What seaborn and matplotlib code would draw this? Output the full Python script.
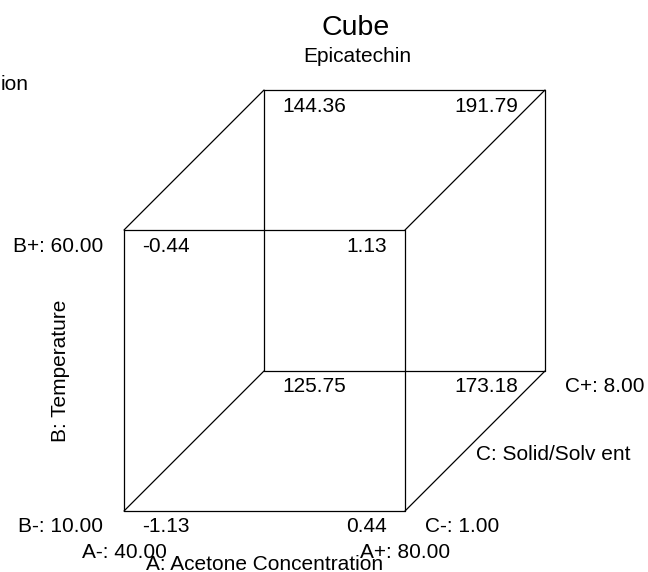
import matplotlib
matplotlib.use("Agg")
import matplotlib.pyplot as plt
import seaborn as sns
import pandas as pd
import itertools

# ---- data ----
title = "Cube"
response = "Epicatechin"
factor_names = ["A: Acetone Concentration", "B: Temperature", "C: Solid/Solv ent"]
A_levels = [40.00, 80.00]
B_levels = [10.00, 60.00]
C_levels = [1.00, 8.00]
# predicted values at corners, keyed by coded (a, b, c) with 0 = low, 1 = high
corner_a = [0, 1, 0, 1, 0, 1, 0, 1]
corner_b = [0, 0, 1, 1, 0, 0, 1, 1]
corner_c = [0, 0, 0, 0, 1, 1, 1, 1]
corner_values = [-1.13, 0.44, -0.44, 1.13, 125.75, 173.18, 144.36, 191.79]

sns.set_theme(style="white")
plt.rcParams["font.family"] = ["Liberation Sans", "DejaVu Sans"]
plt.rcParams["text.color"] = "black"

W, H = 648, 572
fig = plt.figure(figsize=(W / 100, H / 100), dpi=100)
ax = fig.add_axes([0, 0, 1, 1])

# projection of coded levels to the page
X0, Y0, SIDE, DEPTH = 124, 511, 281, 140


def proj(a, b, c):
    return X0 + SIDE * a + DEPTH * c, Y0 - SIDE * b - DEPTH * c


# cube edges: pairs of corners differing in one coordinate
rows = []
corners = list(itertools.product([0, 1], repeat=3))
eid = 0
for p, q in itertools.combinations(corners, 2):
    if sum(abs(i - j) for i, j in zip(p, q)) == 1:
        for pt in (p, q):
            x, y = proj(*pt)
            rows.append({"edge": eid, "x": x, "y": y})
        eid += 1
edges = pd.DataFrame(rows)
sns.lineplot(data=edges, x="x", y="y", units="edge", estimator=None,
             sort=False, color="black", linewidth=0.9, ax=ax, legend=False)
ax.set_xlim(0, W)
ax.set_ylim(H, 0)
ax.axis("off")

FS = 15
TC = "black"
# corner values
for a, b, c, v in zip(corner_a, corner_b, corner_c, corner_values):
    x, y = proj(a, b, c)
    if a == 0:
        ax.text(x + 18, y + 21.5, f"{v:.2f}", ha="left", va="baseline", fontsize=FS, color=TC)
    else:
        off = 18 if c == 0 else 27
        ax.text(x - off, y + 21.5, f"{v:.2f}", ha="right", va="baseline", fontsize=FS, color=TC)

# factor B labels
for b, lev, sign in zip([0, 1], B_levels, ["-", "+"]):
    x, y = proj(0, b, 0)
    ax.text(x - 21, y + 21.5, f"B{sign}: {lev:.2f}", ha="right", va="baseline",
            fontsize=FS, color=TC)
# factor A labels
for a, lev, sign in zip([0, 1], A_levels, ["-", "+"]):
    x, y = proj(a, 0, 0)
    ax.text(x, y + 46.5, f"A{sign}: {lev:.2f}", ha="center", va="baseline",
            fontsize=FS, color=TC)
# factor C labels
for c, lev, sign in zip([0, 1], C_levels, ["-", "+"]):
    x, y = proj(1, 0, c)
    ax.text(x + 20, y + 21, f"C{sign}: {lev:.2f}", ha="left", va="baseline",
            fontsize=FS, color=TC)

# axis titles
xa0, ya0 = proj(0, 0, 0)
xa1, _ = proj(1, 0, 0)
ax.text((xa0 + xa1) / 2, ya0 + 58.5, factor_names[0], ha="center", va="baseline",
        fontsize=FS, color=TC)
_, yb1 = proj(0, 1, 0)
ax.text(61, (ya0 + yb1) / 2, factor_names[1], ha="center", va="center",
        rotation=90, fontsize=FS, color=TC)
xc0, yc0 = proj(1, 0, 0)
xc1, yc1 = proj(1, 0, 1)
ax.text((xc0 + xc1) / 2 + 1, (yc0 + yc1) / 2 + 19, factor_names[2],
        ha="left", va="baseline", fontsize=FS, color=TC)

# titles
ax.text(356, 35, title, ha="center", va="baseline", fontsize=20.5, color=TC)
ax.text(357, 62, response, ha="center", va="baseline", fontsize=FS, color=TC)
ax.text(0.5, 90, "ion", ha="left", va="baseline", fontsize=FS, color=TC)

fig.savefig("out.png", dpi=100, facecolor="white")
